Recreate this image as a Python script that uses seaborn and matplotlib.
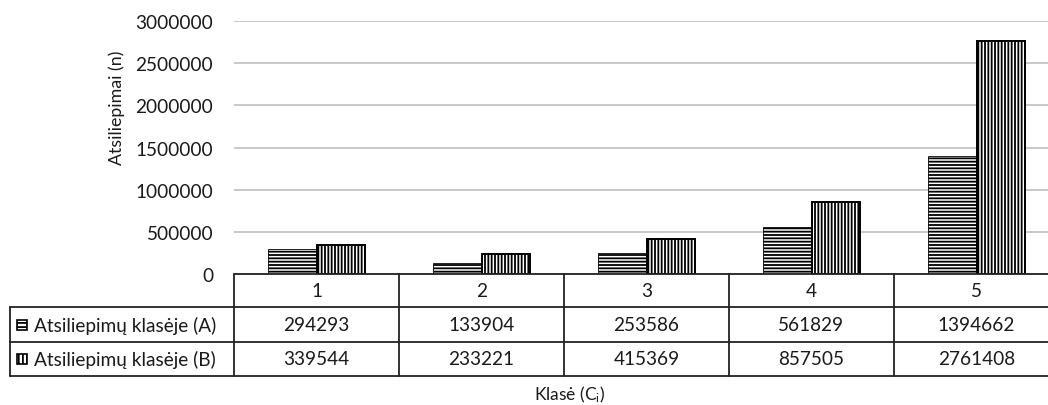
import matplotlib
matplotlib.use("Agg")
import matplotlib.pyplot as plt
import matplotlib.transforms as mtransforms
from matplotlib.lines import Line2D
from matplotlib.patches import Rectangle
import seaborn as sns
import pandas as pd

categories = ["1", "2", "3", "4", "5"]
series_names = ["Atsiliepimų klasėje (A)", "Atsiliepimų klasėje (B)"]
values_a = [294293, 133904, 253586, 561829, 1394662]
values_b = [339544, 233221, 415369, 857505, 2761408]
y_ticks = [0, 500000, 1000000, 1500000, 2000000, 2500000, 3000000]
x_label = "Klasė (C$_{\\rm i}$)"
y_label = "Atsiliepimai (n)"
hatches = ["-----", "|||||"]

sns.set_theme(style="white")
plt.rcParams["font.family"] = ["Lato", "DejaVu Sans"]
plt.rcParams["mathtext.fontset"] = "custom"
plt.rcParams["mathtext.rm"] = "Lato"
plt.rcParams["mathtext.it"] = "Lato:italic"
plt.rcParams["hatch.linewidth"] = 1.3
plt.rcParams["hatch.color"] = "black"

TXT = "#1a1a1a"
FS = 13.7

W, H = 1048, 406
fig = plt.figure(figsize=(W / 100, H / 100), dpi=100)
fig.patch.set_facecolor("white")

def fx(px):
    return px / W

def fy(py):
    return 1 - py / H

ax = fig.add_axes([fx(234), fy(275), fx(1059) - fx(234), fy(22) - fy(275)])

df = pd.DataFrame({
    "cat": categories * 2,
    "val": values_a + values_b,
    "series": [series_names[0]] * len(categories) + [series_names[1]] * len(categories),
})

sns.barplot(data=df, x="cat", y="val", hue="series", ax=ax, width=0.59,
            palette=["white", "white"], edgecolor="black", linewidth=1.0,
            legend=False, saturation=1)
for cont, h, lw in zip(ax.containers, hatches, [0.6, 1.4]):
    for p in cont:
        p.set_hatch(h)
        p.set_linewidth(lw)

ax.set_xlim(-0.5, len(categories) - 0.5)
ax.set_ylim(0, y_ticks[-1])
ax.set_yticks(y_ticks)
ax.set_yticklabels([str(v) for v in y_ticks], fontsize=FS, color=TXT)
ax.tick_params(axis="y", length=0, pad=15)
ax.set_xticks([])
ax.set_xlabel("")
ax.set_ylabel("")
ax.yaxis.grid(True, color="#c4c4c4", linewidth=1.3)
ax.set_axisbelow(True)
for s in ax.spines.values():
    s.set_visible(False)

# Data table below plot
bt = mtransforms.blended_transform_factory(ax.transData, fig.transFigure)
line_kw = dict(color="#222222", linewidth=1.3)
row_edges = [275, 308, 343, 377]
n = len(categories)
x0 = -0.5
x1 = n - 0.5
fig.add_artist(Line2D([x0, x1], [fy(row_edges[0])] * 2, transform=bt, **line_kw))
for r in row_edges[1:]:
    fig.add_artist(Line2D([fx(10), 1.02], [fy(r)] * 2, transform=fig.transFigure, **line_kw))
for i in range(n + 1):
    xb = i - 0.5
    fig.add_artist(Line2D([xb, xb], [fy(row_edges[0]), fy(row_edges[-1])], transform=bt, **line_kw))
fig.add_artist(Line2D([fx(10), fx(10)], [fy(row_edges[1]), fy(row_edges[-1])],
                      transform=fig.transFigure, **line_kw))

txt_kw = dict(fontsize=FS, color=TXT, ha="center", va="center")
for i, c in enumerate(categories):
    fig.text(i, fy((row_edges[0] + row_edges[1]) / 2), c, transform=bt, **txt_kw)
for row, vals in enumerate([values_a, values_b]):
    yc = fy((row_edges[row + 1] + row_edges[row + 2]) / 2)
    for i, v in enumerate(vals):
        fig.text(i, yc, str(v), transform=bt, **txt_kw)
    fig.add_artist(Rectangle((fx(17), yc - 5 / H), fx(10), 10 / H, transform=fig.transFigure,
                             facecolor="white", edgecolor="black", linewidth=1.2,
                             hatch=hatches[row][:4]))
    fig.text(fx(34), yc, series_names[row], transform=fig.transFigure,
             fontsize=FS, color=TXT, ha="left", va="center")

fig.text(fx(570), fy(395), x_label, fontsize=12.5, color=TXT, ha="center", va="center")
fig.text(fx(117), fy(108), y_label, fontsize=12.8, color=TXT, ha="center", va="center",
         rotation=90)

fig.savefig("out.png", dpi=100, facecolor="white")
